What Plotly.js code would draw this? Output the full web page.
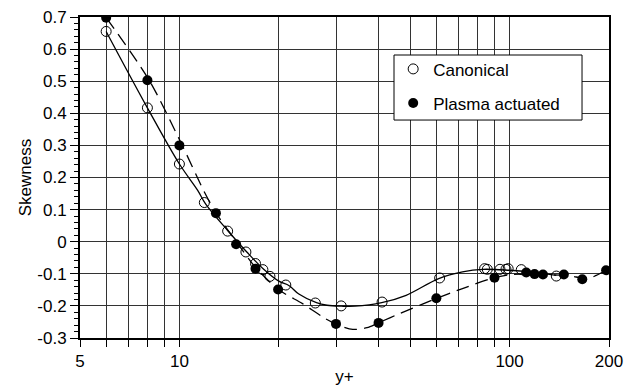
<!DOCTYPE html>
<html>
<head>
<meta charset="utf-8">
<script src="https://cdn.plot.ly/plotly-3.0.1.min.js"></script>
<style>html,body{margin:0;padding:0;background:#fff;}#chart{width:643px;height:388px;}</style>
</head>
<body>
<div id="chart"></div>
<script>
// Measured data (y+ vs skewness)
var canonX = [6, 8, 10, 11.9, 14, 15.9, 17, 17.9, 18.8, 21, 25.8, 30.9, 41.1, 61.4, 84, 85.6, 93.5, 97.5, 99, 108.5, 138.5];
var canonY = [0.655, 0.417, 0.242, 0.122, 0.033, -0.032, -0.068, -0.087, -0.108, -0.135, -0.191, -0.200, -0.188, -0.113, -0.084, -0.086, -0.086, -0.086, -0.084, -0.087, -0.107];

var plasmaX = [6, 8, 10, 12.9, 14.85, 17, 19.9, 29.8, 40.1, 60, 90, 112.3, 119, 126.2, 146, 166, 196];
var plasmaY = [0.698, 0.503, 0.300, 0.089, -0.008, -0.084, -0.149, -0.256, -0.253, -0.176, -0.112, -0.096, -0.101, -0.102, -0.102, -0.117, -0.089];

// Fitted curves
var canonFitX = [6, 8, 10, 11.36, 12, 14, 16, 18, 20, 21.5, 23, 26, 28, 31, 34, 41, 48.6, 61, 72, 83, 100, 115, 138.5];
var canonFitY = [0.655, 0.417, 0.242, 0.160, 0.118, 0.035, -0.032, -0.086, -0.123, -0.137, -0.163, -0.190, -0.198, -0.201, -0.201, -0.190, -0.167, -0.115, -0.094, -0.086, -0.089, -0.094, -0.105];

var plasmaFitX = [6, 8.1, 10.2, 11.9, 12.9, 15, 17, 20, 23.6, 27.2, 30, 33.5, 37, 40, 46.4, 60, 72, 90, 102, 115, 130, 145, 159, 171, 183, 196];
var plasmaFitY = [0.698, 0.503, 0.300, 0.155, 0.090, -0.005, -0.080, -0.150, -0.193, -0.235, -0.258, -0.273, -0.268, -0.253, -0.224, -0.177, -0.146, -0.112, -0.102, -0.100, -0.102, -0.105, -0.110, -0.117, -0.105, -0.089];

var xTickVals = [5, 6, 7, 8, 9, 10, 20, 30, 40, 50, 60, 70, 80, 90, 100, 200];
var xTickText = ['5', '', '', '', '', '10', '', '', '', '', '', '', '', '', '100', '200'];
var yTickVals = [-0.3, -0.2, -0.1, 0, 0.1, 0.2, 0.3, 0.4, 0.5, 0.6, 0.7];
var yTickText = ['-0.3', '-0.2', '-0.1', '0', '0.1', '0.2', '0.3', '0.4', '0.5', '0.6', '0.7'];

var FONT = '"Liberation Sans", Arial, Helvetica, sans-serif';
var FS = 17;

var traces = [
  {x: canonFitX, y: canonFitY, mode: 'lines', line: {shape: 'spline', color: '#000', width: 1.3}, showlegend: false, hoverinfo: 'skip'},
  {x: plasmaFitX, y: plasmaFitY, mode: 'lines', line: {shape: 'spline', smoothing: 0.8, color: '#000', width: 1.3, dash: '13px,7px'}, showlegend: false, hoverinfo: 'skip'},
  {x: canonX, y: canonY, mode: 'markers', name: 'Canonical', legendgroup: 'a',
   marker: {symbol: 'circle-open', size: 10, color: '#000', line: {width: 1, color: '#000'}}},
  {x: plasmaX, y: plasmaY, mode: 'markers', name: 'Plasma actuated', legendgroup: 'b',
   marker: {symbol: 'circle', size: 10, color: '#000'}}
];

var layout = {
  width: 643, height: 388,
  margin: {l: 80, r: 34, t: 17, b: 50},
  paper_bgcolor: '#fff', plot_bgcolor: '#fff',
  font: {family: FONT, size: FS, color: '#000'},
  showlegend: true,
  legend: {x: 0.592, y: 0.893, xanchor: 'left', yanchor: 'top', bgcolor: 'rgba(0,0,0,0)', borderwidth: 0,
           traceorder: 'grouped', tracegroupgap: 9, font: {family: FONT, size: FS}},
  shapes: [{type: 'rect', xref: 'paper', yref: 'paper', x0: 0.5936, x1: 0.949, y0: 0.679, y1: 0.8816,
            line: {color: '#000', width: 1}, fillcolor: '#fff', layer: 'above'}],
  xaxis: {
    type: 'log', range: [Math.log10(5), Math.log10(200)],
    tickmode: 'array', tickvals: xTickVals, ticktext: xTickText,
    ticks: 'outside', ticklen: 7, tickwidth: 1, tickcolor: '#000',
    showgrid: true, gridcolor: '#333', gridwidth: 1,
    showline: true, linecolor: '#000', linewidth: 2, mirror: true,
    zeroline: false,
    tickfont: {family: FONT, size: FS},
    title: {text: 'y+', font: {family: FONT, size: FS}, standoff: 0}
  },
  yaxis: {
    range: [-0.3, 0.7],
    tickmode: 'array', tickvals: yTickVals, ticktext: yTickText,
    ticks: 'outside', ticklen: 8, tickwidth: 1, tickcolor: '#000',
    minor: {tickmode: 'linear', tick0: -0.3, dtick: 0.02, ticks: 'outside', ticklen: 4, tickcolor: '#000', showgrid: false},
    showgrid: true, gridcolor: '#333', gridwidth: 1,
    showline: true, linecolor: '#000', linewidth: 2, mirror: true,
    zeroline: false,
    tickfont: {family: FONT, size: FS},
    title: {text: 'Skewness', font: {family: FONT, size: FS}, standoff: 1}
  }
};

Plotly.newPlot('chart', traces, layout, {displayModeBar: false, staticPlot: true});
</script>
</body>
</html>
